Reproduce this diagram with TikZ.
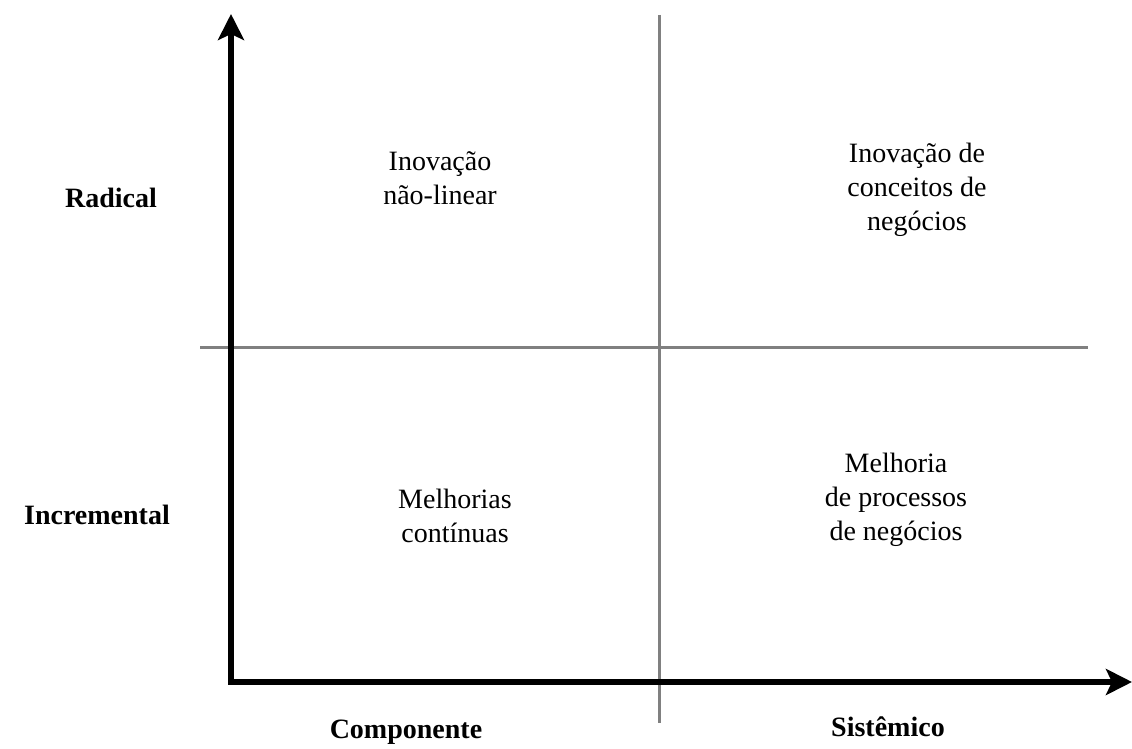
\documentclass[tikz,border=0pt]{standalone}
\usepackage{fontspec}
\setmainfont{Liberation Serif}
\usetikzlibrary{arrows.meta}

\begin{document}
\begin{tikzpicture}[x=0.5pt,y=-0.5pt,
	axis/.style={line width=3pt,-{Stealth[length=13pt,width=13pt,inset=3pt]}},
	divider/.style={line width=1.5pt,color=gray},
	quad/.style={align=center,font=\fontsize{14}{17}\selectfont},
	axlabel/.style={font=\fontsize{14}{17}\selectfont\bfseries}]
	\useasboundingbox (0,0) rectangle (1132,749);
	\coordinate (origin) at (231,682);
	\coordinate (ytop) at (231,14);
	\coordinate (xend) at (1132,682);
	\draw[divider] (659,15) -- (659,723);
	\draw[divider] (200,348) -- (1088,348);
	\draw[axis] (origin) -- (ytop);
	\draw[axis] (228,682) -- (xend);
	\node[axlabel] (radical) at (111,198) {Radical};
	\node[axlabel] (incremental) at (97,515) {Incremental};
	\node[axlabel] (componente) at (406,732) {Componente};
	\node[axlabel] (sistemico) at (888,727) {Sistêmico};
	\node[quad] (naolinear) at (440,178) {Inovação\\não-linear};
	\node[quad] (conceitos) at (917,190) {Inovação de\\conceitos de\\negócios};
	\node[quad] (continuas) at (455,516) {Melhorias\\contínuas};
	\node[quad] (processos) at (896,500) {Melhoria\\de processos\\de negócios};
\end{tikzpicture}
\end{document}
